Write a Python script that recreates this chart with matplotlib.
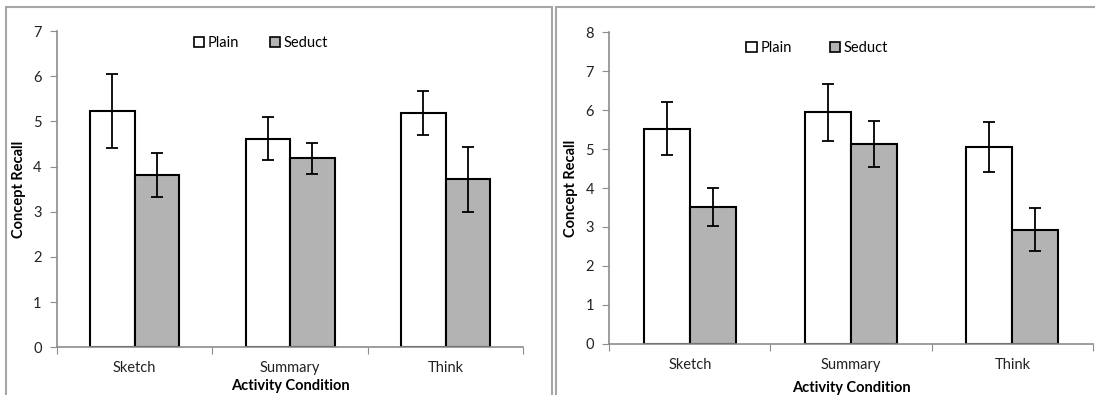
import matplotlib.pyplot as plt
from matplotlib.patches import Patch, Rectangle

plt.rcParams['font.family'] = ['Lato', 'DejaVu Sans']

categories = ['Sketch', 'Summary', 'Think']
series = ['Plain', 'Seduct']

# left chart
left_plain = [5.23, 4.62, 5.18]
left_plain_err = [0.82, 0.47, 0.485]
left_seduct = [3.82, 4.18, 3.72]
left_seduct_err = [0.485, 0.35, 0.715]

# right chart
right_plain = [5.52, 5.95, 5.05]
right_plain_err = [0.68, 0.73, 0.64]
right_seduct = [3.52, 5.13, 2.93]
right_seduct_err = [0.49, 0.60, 0.55]

colors = ['white', '#b3b3b3']
axis_grey = '#8c8c8c'

fig = plt.figure(figsize=(10.95, 3.95), dpi=100)

# panel frames (cut off at the bottom like the screenshot)
for x0, x1 in [(6, 552), (556, 1100)]:
    fig.patches.append(Rectangle((x0 / 1095, -0.1), (x1 - x0) / 1095, 1.1 - 7 / 395,
                                 transform=fig.transFigure, fill=False,
                                 edgecolor='#a6a6a6', linewidth=1.5, clip_on=False))


def draw(ax, plain, plain_err, seduct, seduct_err, ymax, leg_x, leg_y, colspace, xpad):
    bw = 0.2865
    xs = [i + 0.5 for i in range(len(categories))]
    ax.bar([x - bw / 2 for x in xs], plain, bw, yerr=plain_err, color=colors[0],
           edgecolor='black', linewidth=1.5,
           error_kw=dict(ecolor='black', elinewidth=1.3, capsize=4, capthick=1.3))
    ax.bar([x + bw / 2 for x in xs], seduct, bw, yerr=seduct_err, color=colors[1],
           edgecolor='black', linewidth=1.5,
           error_kw=dict(ecolor='black', elinewidth=1.3, capsize=4, capthick=1.3))
    ax.set_xlim(0, len(categories))
    ax.set_ylim(0, ymax)
    ax.set_yticks(range(ymax + 1))
    ax.set_xticks(range(len(categories) + 1))
    ax.set_xticklabels([])
    ax.set_xticks(xs, minor=True)
    ax.set_xticklabels(categories, minor=True)
    ax.tick_params(axis='x', which='minor', length=0, pad=10, labelsize=10.5, colors='#222222')
    ax.tick_params(axis='x', which='major', length=5, color=axis_grey, direction='out')
    ax.tick_params(axis='y', length=5, color=axis_grey, labelsize=10.5, labelcolor='#222222', pad=6)
    for s in ['top', 'right']:
        ax.spines[s].set_visible(False)
    for s in ['left', 'bottom']:
        ax.spines[s].set_color(axis_grey)
        ax.spines[s].set_linewidth(1.2)
    ax.set_ylabel('Concept Recall', fontsize=10.5, fontweight='bold', labelpad=5)
    ax.set_xlabel('Activity Condition', fontsize=10.5, fontweight='bold', labelpad=xpad)
    handles = [Patch(facecolor=c, edgecolor='black', linewidth=1.2) for c in colors]
    ax.legend(handles, series, ncol=2, loc='center', bbox_to_anchor=(leg_x, leg_y),
              frameon=False, handlelength=0.7, handleheight=0.7, handletextpad=0.25,
              columnspacing=colspace, fontsize=10.5)


ax1 = fig.add_axes([0.0519, 0.1208, 0.4260, 0.8007])
draw(ax1, left_plain, left_plain_err, left_seduct, left_seduct_err, 7, 0.438, 0.962, 2.1, 3)

ax2 = fig.add_axes([0.5563, 0.1299, 0.4418, 0.7883])
draw(ax2, right_plain, right_plain_err, right_seduct, right_seduct_err, 8, 0.43, 0.95, 2.6, 7)

fig.savefig('out.png', dpi=100)
